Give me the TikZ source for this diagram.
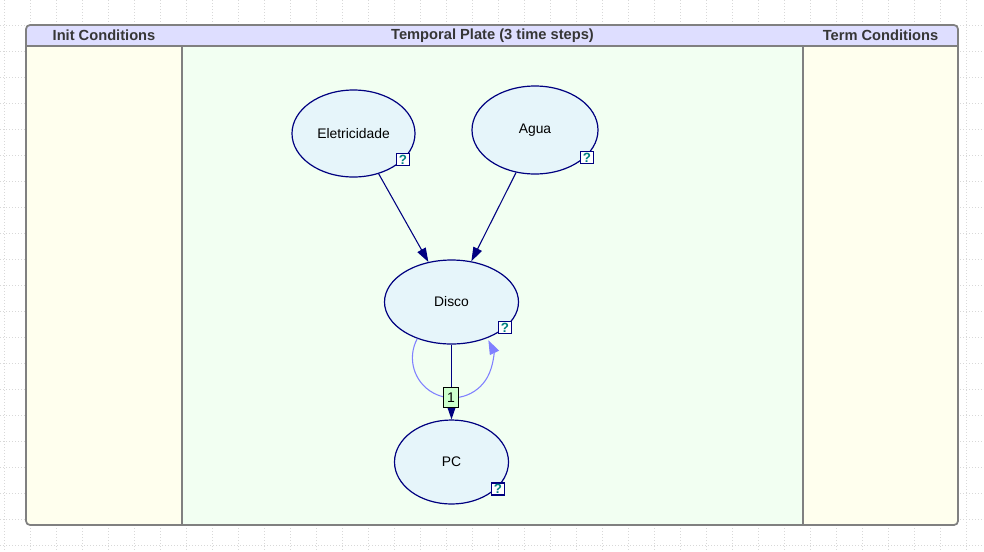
\documentclass[tikz,border=0pt]{standalone}
\usepackage{fontspec}
\setmainfont{Liberation Sans}
\usetikzlibrary{shapes.geometric,arrows.meta}
\definecolor{gridc}{HTML}{D8D8D8}
\definecolor{plateborder}{HTML}{808080}
\definecolor{headfill}{HTML}{DEDEFF}
\definecolor{condfill}{HTML}{FFFFEE}
\definecolor{tempfill}{HTML}{F2FFF2}
\definecolor{nodefill}{HTML}{E6F5FA}
\definecolor{navy}{HTML}{000080}
\definecolor{headtext}{HTML}{363636}
\definecolor{qteal}{HTML}{008080}
\definecolor{labfill}{HTML}{CCFFCC}
\definecolor{loopc}{HTML}{8080FF}
\tikzset{
  varnode/.style={ellipse, draw=navy, line width=0.9pt, fill=nodefill, inner sep=0pt,
    font=\fontsize{10.4}{12}\selectfont, text=black},
  qbox/.style={rectangle, draw=navy, line width=1.4pt, fill=white, inner sep=0pt,
    minimum width=13*0.75pt, minimum height=12*0.75pt,
    font=\fontsize{10}{10}\selectfont\bfseries, text=qteal},
  arc link/.style={draw=navy, line width=0.8pt, -{Triangle[length=10.5pt,width=7pt]}},
  loop link/.style={draw=loopc, line width=0.8pt, -{Triangle[length=10.5pt,width=7.5pt]}},
  lagbox/.style={rectangle, draw=black, line width=0.8pt, fill=labfill, inner sep=0pt,
    minimum width=15*0.75pt, minimum height=20*0.75pt, font=\fontsize{10.5}{12}\selectfont},
  headlabel/.style={font=\fontsize{11}{13}\selectfont\bfseries, text=headtext, inner sep=0pt},
}
\begin{document}
\begin{tikzpicture}[x=0.75pt,y=0.75pt]
\useasboundingbox (0,0) rectangle (984,-551);
\fill[white] (0,0) rectangle (984,-551);
% background grid
\foreach \i in {0,...,37} {
  \draw[gridc, line width=0.75pt, dash pattern=on 0.75pt off 1.5pt] (4.5+26*\i,0) -- (4.5+26*\i,-551);
}
\foreach \j in {0,...,21} {
  \draw[gridc, line width=0.75pt, dash pattern=on 0.75pt off 1.5pt] (0,-25.5-26*\j) -- (984,-25.5-26*\j);
}
% plate
\begin{scope}
\clip[rounded corners=4*0.75pt] (26,-25) rectangle (958,-525);
\fill[condfill] (26,-25) rectangle (182,-525);
\fill[tempfill] (182,-25) rectangle (803,-525);
\fill[condfill] (803,-25) rectangle (958,-525);
\fill[headfill] (26,-25) rectangle (958,-46);
\end{scope}
\draw[plateborder, line width=1.1pt] (26,-46) -- (958,-46);
\draw[plateborder, line width=1.1pt] (182,-46) -- (182,-525);
\draw[plateborder, line width=1.1pt] (803,-46) -- (803,-525);
\draw[plateborder, line width=1.3pt, rounded corners=4*0.75pt] (26,-25) rectangle (958,-525);
\node[headlabel] (hinit) at (104,-35.5) {Init Conditions};
\node[headlabel] (htemp) at (492.5,-35.5) {Temporal Plate (3 time steps)};
\node[headlabel] (hterm) at (880.5,-35.5) {Term Conditions};
% nodes
\node[varnode, minimum width=123*0.75pt, minimum height=87*0.75pt] (elec) at (353.5,-133.5) {Eletricidade};
\node[varnode, minimum width=126*0.75pt, minimum height=88*0.75pt] (agua) at (535,-130) {Agua};
\node[varnode, minimum width=134*0.75pt, minimum height=84*0.75pt] (disco) at (451.5,-302) {Disco};
\node[varnode, minimum width=114*0.75pt, minimum height=84*0.75pt] (pc) at (451.5,-462) {PC};
% question boxes
\node[qbox] (qelec) at (403,-159.5) {?};
\node[qbox] (qagua) at (587,-157.5) {?};
\node[qbox] (qdisco) at (505,-327.5) {?};
\node[qbox] (qpc) at (498,-489) {?};
% links
\draw[arc link] (elec.-58.6) -- (disco.120);
\draw[arc link] (agua.-114) -- (disco.64.6);
\draw[loop link] (disco.227) arc[start angle=151.5, end angle=386, radius=40];
\draw[arc link, -{Triangle[length=9pt,width=6pt]}] (disco.south) -- (pc.north);
\node[lagbox] (lag) at (451,-397.5) {1};
\end{tikzpicture}
\end{document}
